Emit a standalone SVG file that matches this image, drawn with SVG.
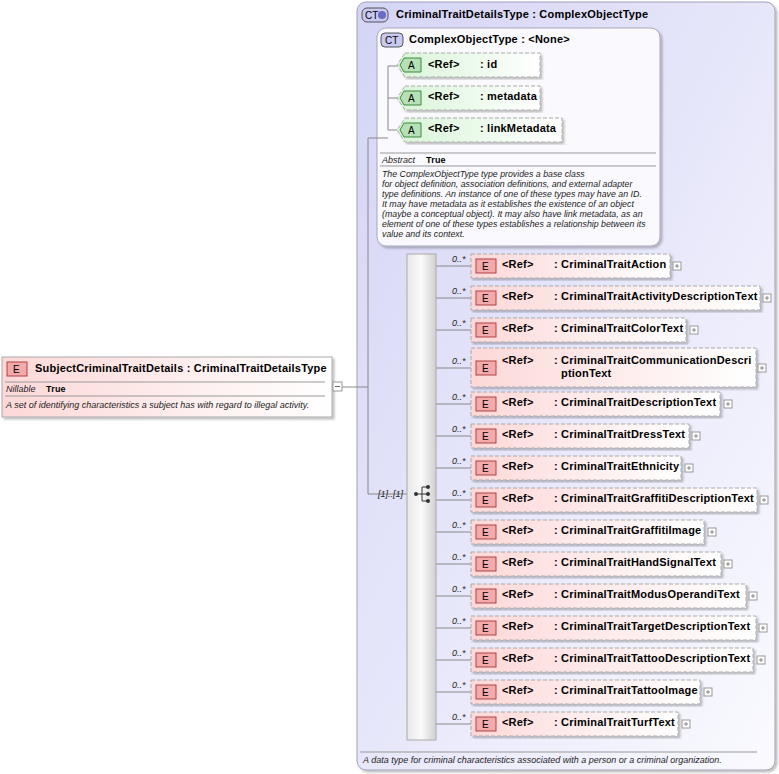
<svg xmlns="http://www.w3.org/2000/svg" width="779" height="774" viewBox="0 0 779 774">
<style>
text{font-family:"Liberation Sans",Arial,sans-serif;font-size:11px;fill:#000}
.b{font-weight:bold;letter-spacing:0.2px}
.i{font-style:italic;font-size:9px;fill:#222}
.ln{stroke:#888;stroke-width:1;fill:none}
.el{fill:url(#pk);stroke:#aaa;stroke-dasharray:4 2}
.at{fill:url(#gr);stroke:#aaa;stroke-dasharray:4 2}
.eb{fill:#f2aaaa;stroke:#b04040}
.ab{fill:#b6e0b6;stroke:#3d8a3d}
.pl{fill:#fff;stroke:#999}
</style>
<defs>
<linearGradient id="pk" x1="0" x2="1" y1="0" y2="0"><stop offset="0" stop-color="#fdd8d8"/><stop offset="1" stop-color="#fff"/></linearGradient>
<linearGradient id="gr" x1="0" x2="1"><stop offset="0" stop-color="#d8f5d8"/><stop offset="1" stop-color="#fff"/></linearGradient>
<linearGradient id="lv" x1="0" x2="1" y1="0" y2="1"><stop offset="0" stop-color="#d4d4f6"/><stop offset="1" stop-color="#fafaff"/></linearGradient>
<linearGradient id="sq" x1="0" x2="1"><stop offset="0" stop-color="#e8e8e8"/><stop offset="0.5" stop-color="#fafafa"/><stop offset="1" stop-color="#d0d0d0"/></linearGradient>
<filter id="sh"><feDropShadow dx="2" dy="2" stdDeviation="1" flood-opacity="0.25"/></filter>
<g id="plus"><rect x="0" y="0" width="8" height="8" class="pl"/><path d="M2 4H6M4 2V6" stroke="#888"/></g>
</defs>

<g id="ct-outer">
<rect x="357" y="2" width="418" height="768" rx="9" fill="url(#lv)" stroke="#a0a0b8" filter="url(#sh)"/>
<rect x="362" y="8" width="26" height="14" rx="5" fill="#c8c8f0" stroke="#555"/>
<text x="365" y="19" style="font-size:10px">CT</text><circle cx="382" cy="15" r="4" fill="#6a6ac0"/>
<text x="396" y="18" class="b">CriminalTraitDetailsType : ComplexObjectType</text>
<line x1="360" y1="752" x2="757" y2="752" stroke="#999"/>
<text x="363" y="763" class="i">A data type for criminal characteristics associated with a person or a criminal organization.</text>
</g>

<g id="ct-inner">
<rect x="377" y="28" width="283" height="218" rx="9" fill="#fafafe" stroke="#a8a8b8" filter="url(#sh)"/>
<rect x="381" y="33" width="22" height="14" rx="4" fill="#c8c8f0" stroke="#555"/>
<text x="385" y="44" style="font-size:10px">CT</text>
<text x="409" y="43" class="b">ComplexObjectType : &lt;None&gt;</text>
<line x1="380" y1="153" x2="656" y2="153" stroke="#999"/>
<text x="382" y="163" class="i">Abstract</text><text x="426" y="163" class="b" style="font-size:9px">True</text>
<line x1="380" y1="166" x2="656" y2="166" stroke="#999"/>
<text class="i" style="font-size:8.8px"><tspan x="382" y="177">The ComplexObjectType type provides a base class</tspan><tspan x="382" y="187">for object definition, association definitions, and external adapter</tspan><tspan x="382" y="197">type definitions. An instance of one of these types may have an ID.</tspan><tspan x="382" y="207">It may have metadata as it establishes the existence of an object</tspan><tspan x="382" y="217">(maybe a conceptual object). It may also have link metadata, as an</tspan><tspan x="382" y="227">element of one of these types establishes a relationship between its</tspan><tspan x="382" y="237">value and its context.</tspan></text>
</g>

<g id="connectors">
<path class="ln" d="M338 387H368M368 138V494H407M368 138H388M388 66V130M388 66H397M388 98H397M388 130H397"/>
<path class="ln" d="M436 266H471M436 298H471M436 330H471M436 368H471M436 404H471M436 436H471M436 468H471M436 500H471M436 532H471M436 564H471M436 596H471M436 628H471M436 660H471M436 692H471M436 724H471"/>
<text x="378" y="497" class="i">[1]..[1]</text>
</g>

<g id="attrs">
<g id="a-id"><path class="at" d="M405 53H540V77H405L397 65Z" filter="url(#sh)"/><path class="ab" d="M404 58H421V72H404L400 65Z"/><text x="408" y="69" style="font-size:10px">A</text><text x="428" y="68" class="b">&lt;Ref&gt;</text><text x="480" y="68" class="b">: id</text></g>
<g id="a-md"><path class="at" d="M405 86H540V110H405L397 98Z" filter="url(#sh)"/><path class="ab" d="M404 91H421V105H404L400 98Z"/><text x="408" y="102" style="font-size:10px">A</text><text x="428" y="100" class="b">&lt;Ref&gt;</text><text x="480" y="100" class="b">: metadata</text></g>
<g id="a-lm"><path class="at" d="M405 118H562V142H405L397 130Z" filter="url(#sh)"/><path class="ab" d="M404 123H421V137H404L400 130Z"/><text x="408" y="134" style="font-size:10px">A</text><text x="428" y="132" class="b">&lt;Ref&gt;</text><text x="480" y="132" class="b">: linkMetadata</text></g>
</g>

<g id="sequence">
<rect x="407" y="254" width="29" height="486" fill="url(#sq)" stroke="#aaa"/>
<path d="M416 494H422M422 487V501M422 487H428M422 494H428M422 501H428" stroke="#333" fill="none"/>
<circle cx="416" cy="494" r="2" fill="#333"/><circle cx="428" cy="487" r="2" fill="#333"/><circle cx="428" cy="494" r="2" fill="#333"/><circle cx="428" cy="501" r="2" fill="#333"/>
</g>

<g id="main">
<rect x="2" y="357" width="330" height="60" fill="url(#pk)" stroke="#aaa" filter="url(#sh)"/>
<rect x="7" y="362" width="20" height="14" class="eb"/><text x="13" y="373" style="font-size:10px">E</text>
<text x="35" y="372" class="b">SubjectCriminalTraitDetails : CriminalTraitDetailsType</text>
<line x1="5" y1="382" x2="325" y2="382" stroke="#999"/>
<text x="6" y="392" class="i">Nillable</text><text x="46" y="392" class="b" style="font-size:9px">True</text>
<line x1="5" y1="396" x2="325" y2="396" stroke="#999"/>
<text x="6" y="408" class="i">A set of identifying characteristics a subject has with regard to illegal activity.</text>
<rect x="333" y="382" width="9" height="9" class="pl"/><line x1="335" y1="386.5" x2="340" y2="386.5" stroke="#666"/>
</g>

<g id="elements">
<g id="e1"><text x="452" y="262" class="i">0..*</text><rect x="471" y="254" width="199" height="24" class="el" filter="url(#sh)"/><rect x="476" y="259" width="20" height="14" class="eb"/><text x="482" y="270" style="font-size:10px">E</text><text x="502" y="268" class="b">&lt;Ref&gt;</text><text x="554" y="268" class="b">: CriminalTraitAction</text><use href="#plus" x="673" y="262"/></g>
<g id="e2"><text x="452" y="294" class="i">0..*</text><rect x="471" y="286" width="289" height="24" class="el" filter="url(#sh)"/><rect x="476" y="291" width="20" height="14" class="eb"/><text x="482" y="302" style="font-size:10px">E</text><text x="502" y="300" class="b">&lt;Ref&gt;</text><text x="554" y="300" class="b">: CriminalTraitActivityDescriptionText</text><use href="#plus" x="763" y="294"/></g>
<g id="e3"><text x="452" y="326" class="i">0..*</text><rect x="471" y="318" width="215" height="24" class="el" filter="url(#sh)"/><rect x="476" y="323" width="20" height="14" class="eb"/><text x="482" y="334" style="font-size:10px">E</text><text x="502" y="332" class="b">&lt;Ref&gt;</text><text x="554" y="332" class="b">: CriminalTraitColorText</text><use href="#plus" x="690" y="326"/></g>
<g id="e4"><text x="452" y="364" class="i">0..*</text><rect x="471" y="348" width="285" height="39" class="el" filter="url(#sh)"/><rect x="476" y="361" width="20" height="14" class="eb"/><text x="482" y="372" style="font-size:10px">E</text><text x="502" y="364" class="b">&lt;Ref&gt;</text><text x="554" y="364" class="b">: CriminalTraitCommunicationDescri</text><text x="561" y="377" class="b">ptionText</text><use href="#plus" x="758" y="364"/></g>
<g id="e5"><text x="452" y="400" class="i">0..*</text><rect x="471" y="392" width="249" height="24" class="el" filter="url(#sh)"/><rect x="476" y="397" width="20" height="14" class="eb"/><text x="482" y="408" style="font-size:10px">E</text><text x="502" y="406" class="b">&lt;Ref&gt;</text><text x="554" y="406" class="b">: CriminalTraitDescriptionText</text><use href="#plus" x="724" y="400"/></g>
<g id="e6"><text x="452" y="432" class="i">0..*</text><rect x="471" y="424" width="218" height="24" class="el" filter="url(#sh)"/><rect x="476" y="429" width="20" height="14" class="eb"/><text x="482" y="440" style="font-size:10px">E</text><text x="502" y="438" class="b">&lt;Ref&gt;</text><text x="554" y="438" class="b">: CriminalTraitDressText</text><use href="#plus" x="692" y="432"/></g>
<g id="e7"><text x="452" y="464" class="i">0..*</text><rect x="471" y="456" width="210" height="24" class="el" filter="url(#sh)"/><rect x="476" y="461" width="20" height="14" class="eb"/><text x="482" y="472" style="font-size:10px">E</text><text x="502" y="470" class="b">&lt;Ref&gt;</text><text x="554" y="470" class="b">: CriminalTraitEthnicity</text><use href="#plus" x="685" y="464"/></g>
<g id="e8"><text x="452" y="496" class="i">0..*</text><rect x="471" y="488" width="286" height="24" class="el" filter="url(#sh)"/><rect x="476" y="493" width="20" height="14" class="eb"/><text x="482" y="504" style="font-size:10px">E</text><text x="502" y="502" class="b">&lt;Ref&gt;</text><text x="554" y="502" class="b">: CriminalTraitGraffitiDescriptionText</text><use href="#plus" x="760" y="496"/></g>
<g id="e9"><text x="452" y="528" class="i">0..*</text><rect x="471" y="520" width="233" height="24" class="el" filter="url(#sh)"/><rect x="476" y="525" width="20" height="14" class="eb"/><text x="482" y="536" style="font-size:10px">E</text><text x="502" y="534" class="b">&lt;Ref&gt;</text><text x="554" y="534" class="b">: CriminalTraitGraffitiImage</text><use href="#plus" x="708" y="528"/></g>
<g id="e10"><text x="452" y="560" class="i">0..*</text><rect x="471" y="552" width="250" height="24" class="el" filter="url(#sh)"/><rect x="476" y="557" width="20" height="14" class="eb"/><text x="482" y="568" style="font-size:10px">E</text><text x="502" y="566" class="b">&lt;Ref&gt;</text><text x="554" y="566" class="b">: CriminalTraitHandSignalText</text><use href="#plus" x="724" y="560"/></g>
<g id="e11"><text x="452" y="592" class="i">0..*</text><rect x="471" y="584" width="275" height="24" class="el" filter="url(#sh)"/><rect x="476" y="589" width="20" height="14" class="eb"/><text x="482" y="600" style="font-size:10px">E</text><text x="502" y="598" class="b">&lt;Ref&gt;</text><text x="554" y="598" class="b">: CriminalTraitModusOperandiText</text><use href="#plus" x="749" y="592"/></g>
<g id="e12"><text x="452" y="624" class="i">0..*</text><rect x="471" y="616" width="285" height="24" class="el" filter="url(#sh)"/><rect x="476" y="621" width="20" height="14" class="eb"/><text x="482" y="632" style="font-size:10px">E</text><text x="502" y="630" class="b">&lt;Ref&gt;</text><text x="554" y="630" class="b">: CriminalTraitTargetDescriptionText</text><use href="#plus" x="759" y="624"/></g>
<g id="e13"><text x="452" y="656" class="i">0..*</text><rect x="471" y="648" width="282" height="24" class="el" filter="url(#sh)"/><rect x="476" y="653" width="20" height="14" class="eb"/><text x="482" y="664" style="font-size:10px">E</text><text x="502" y="662" class="b">&lt;Ref&gt;</text><text x="554" y="662" class="b">: CriminalTraitTattooDescriptionText</text><use href="#plus" x="757" y="656"/></g>
<g id="e14"><text x="452" y="688" class="i">0..*</text><rect x="471" y="680" width="229" height="24" class="el" filter="url(#sh)"/><rect x="476" y="685" width="20" height="14" class="eb"/><text x="482" y="696" style="font-size:10px">E</text><text x="502" y="694" class="b">&lt;Ref&gt;</text><text x="554" y="694" class="b">: CriminalTraitTattooImage</text><use href="#plus" x="704" y="688"/></g>
<g id="e15"><text x="452" y="720" class="i">0..*</text><rect x="471" y="712" width="207" height="24" class="el" filter="url(#sh)"/><rect x="476" y="717" width="20" height="14" class="eb"/><text x="482" y="728" style="font-size:10px">E</text><text x="502" y="726" class="b">&lt;Ref&gt;</text><text x="554" y="726" class="b">: CriminalTraitTurfText</text><use href="#plus" x="682" y="720"/></g>
</g>
</svg>
